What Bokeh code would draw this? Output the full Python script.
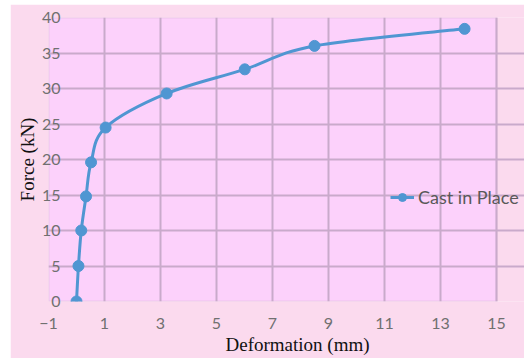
from bokeh.plotting import figure
from bokeh.models import (ColumnDataSource, Legend, LegendItem, FixedTicker, Range1d, Spacer,
                          BoxAnnotation, Title)
from bokeh.layouts import column, row
from bokeh.embed import file_html
from bokeh.resources import INLINE

# data
deformation = [0.0, 0.07, 0.17, 0.34, 0.52, 1.04, 3.22, 6.01, 8.5, 13.86]
force = [0.0, 5.0, 10.0, 14.8, 19.6, 24.5, 29.3, 32.7, 36.0, 38.4]
series_name = "Cast in Place"
x_title = "Deformation (mm)"
y_title = "Force (kN)"
x_ticks = [-1, 1, 3, 5, 7, 9, 11, 13, 15]
y_ticks = [0, 5, 10, 15, 20, 25, 30, 35, 40]
x_min, x_max, y_min, y_max = -1, 15, 0, 40

BLUE = "#5096d2"
GRID = "#c9aacb"
OUTER = "#fbdaee"
INNER = "#fcd1fb"

# frame runs to the right edge so that the legend (which overhangs the plot area) is not clipped
p = figure(width=514, height=354, output_backend="svg", toolbar_location=None,
           x_range=Range1d(x_min, 16), y_range=Range1d(y_min, y_max),
           min_border_left=38, min_border_right=0, min_border_top=13, min_border_bottom=57)
p.border_fill_color = OUTER
p.background_fill_color = OUTER
p.outline_line_color = None

p.add_layout(BoxAnnotation(left=x_min, right=x_max, bottom=y_min, top=y_max,
                           fill_color=INNER, fill_alpha=1, line_color=GRID, line_width=2,
                           level="image"))

# smooth curve (Catmull-Rom -> bezier segments) through the data points
n = len(deformation)
x0, y0, x1, y1, cx0, cy0, cx1, cy1 = [], [], [], [], [], [], [], []
for i in range(n - 1):
    xa, ya = deformation[i], force[i]
    xb, yb = deformation[i + 1], force[i + 1]
    xp, yp = (deformation[i - 1], force[i - 1]) if i > 0 else (xa, ya)
    xn, yn = (deformation[i + 2], force[i + 2]) if i + 2 < n else (xb, yb)
    x0.append(xa); y0.append(ya); x1.append(xb); y1.append(yb)
    cx0.append(xa + (xb - xp) / 6); cy0.append(ya + (yb - yp) / 6)
    cx1.append(xb - (xn - xa) / 6); cy1.append(yb - (yn - ya) / 6)
bsrc = ColumnDataSource(dict(x0=x0, y0=y0, x1=x1, y1=y1, cx0=cx0, cy0=cy0, cx1=cx1, cy1=cy1))
p.bezier(x0="x0", y0="y0", x1="x1", y1="y1", cx0="cx0", cy0="cy0", cx1="cx1", cy1="cy1",
         source=bsrc, line_color=BLUE, line_width=3)

src = ColumnDataSource(dict(x=deformation, y=force))
pts = p.scatter("x", "y", source=src, size=11, fill_color=BLUE, line_color=BLUE)
# one-point line: invisible on the plot, gives the legend its line glyph
leg_line = p.line(deformation[:1], force[:1], line_color=BLUE, line_width=3)

legend = Legend(items=[LegendItem(label=series_name, renderers=[leg_line, pts])],
                location=(342, 93), padding=0, margin=0, spacing=0,
                glyph_height=20, glyph_width=24, label_standoff=4,
                background_fill_alpha=0, border_line_color=None,
                label_text_font="Lato", label_text_font_size="18px",
                label_text_color="#595959")
p.add_layout(legend)

p.xaxis.ticker = FixedTicker(ticks=x_ticks)
p.yaxis.ticker = FixedTicker(ticks=y_ticks)
p.xgrid.ticker = FixedTicker(ticks=x_ticks)
p.ygrid.ticker = FixedTicker(ticks=y_ticks)
p.xgrid.grid_line_color = GRID
p.ygrid.grid_line_color = GRID
p.xgrid.grid_line_width = 2
p.ygrid.grid_line_width = 2
p.ygrid.bounds = (x_min, x_max)

for ax in (p.xaxis, p.yaxis):
    ax.axis_line_color = None
    ax.major_tick_line_color = None
    ax.minor_tick_line_color = None
    ax.major_tick_out = 0
    ax.major_tick_in = 0
    ax.minor_tick_out = 0
    ax.major_label_text_font = "Lato"
    ax.major_label_text_font_size = "16px"
    ax.major_label_text_color = "#707070"
    ax.axis_label_text_font = "Liberation Serif"
    ax.axis_label_text_font_size = "19px"
    ax.axis_label_text_font_style = "normal"
    ax.axis_label_text_color = "#111111"

p.xaxis.major_label_standoff = 16
p.yaxis.major_label_standoff = -12
p.yaxis.axis_label = y_title
p.yaxis.axis_label_standoff = 1

p.add_layout(Title(text=x_title, align="left", offset=177, standoff=0,
                   text_font="Liberation Serif", text_font_size="19px",
                   text_font_style="normal", text_color="#111111"), "below")

layout = column(Spacer(height=4), row(Spacer(width=10), p))
open("out.html", "w").write(file_html(layout, INLINE))
